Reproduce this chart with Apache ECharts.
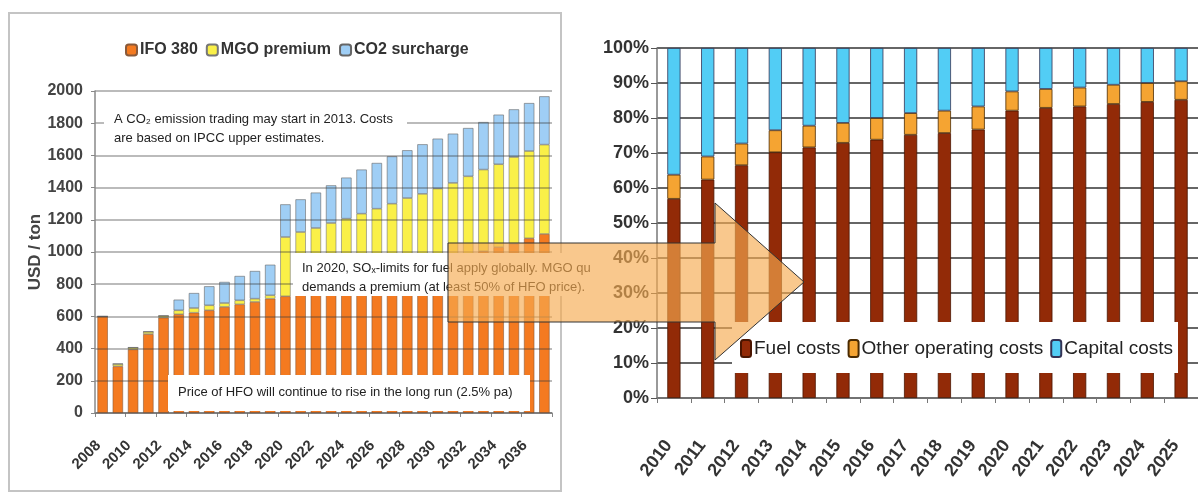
<!DOCTYPE html>
<html>
<head>
<meta charset="utf-8">
<script src="https://cdn.jsdelivr.net/npm/echarts@6/dist/echarts.min.js"></script>
<style>
html,body{margin:0;padding:0;background:#fff;}
#c{width:1198px;height:493px;}
</style>
</head>
<body>
<div id="c"></div>
<script>
// ---------- Left chart data (USD / ton) ----------
var years1 = ['2008','2009','2010','2011','2012','2013','2014','2015','2016','2017','2018','2019','2020','2021','2022','2023','2024','2025','2026','2027','2028','2029','2030','2031','2032','2033','2034','2035','2036','2037'];
var ifo380 = [600,290,395,490,592,613,623,638,659,675,690,710,725,743,762,781,800,820,841,862,883,905,928,951,975,1005,1030,1052,1085,1112];
var mgoPremium = [0,15,12,15,12,25,29,31,24,25,20,21,368,381,387,399,407,418,428,438,452,456,466,478,495,507,515,538,542,555];
var co2Surcharge = [0,0,0,0,0,66,93,118,131,151,172,190,203,203,220,234,255,274,284,294,297,308,310,306,300,295,308,296,298,300];
var yTicks1 = [0,200,400,600,800,1000,1200,1400,1600,1800,2000];

// ---------- Right chart data (% share) ----------
var years2 = ['2010','2011','2012','2013','2014','2015','2016','2017','2018','2019','2020','2021','2022','2023','2024','2025'];
var fuelCosts = [56.9,62.4,66.5,70.2,71.6,72.9,73.8,75.2,75.7,76.7,82.1,82.9,83.3,84.0,84.6,85.2];
var otherCosts = [6.9,6.6,6.2,6.3,6.2,5.7,6.2,6.2,6.4,6.6,5.5,5.4,5.4,5.5,5.4,5.3];
var capitalCosts = [36.2,31.0,27.3,23.5,22.2,21.4,20.0,18.6,17.9,16.7,12.4,11.7,11.3,10.5,10.0,9.5];

var SANS = "'Liberation Sans',Arial,sans-serif";

var chart = echarts.init(document.getElementById('c'), null, {renderer:'canvas'});

var option = {
  animation: false,
  backgroundColor: '#ffffff',
  legend: [
    {
      left: 120, top: 37,
      itemWidth: 11, itemHeight: 11, itemGap: 8,
      textStyle: {fontFamily: SANS, fontSize: 16, fontWeight: 'bold', color: '#333', padding: [0,0,0,-2]},
      data: ['IFO 380','MGO premium','CO2 surcharge']
    },
    {
      left: 735, top: 334, z: 6, width: 460,
      itemWidth: 10, itemHeight: 17, itemGap: 7,
      textStyle: {fontFamily: SANS, fontSize: 19, color: '#222', padding: [0,0,0,-2]},
      data: ['Fuel costs','Other operating costs','Capital costs']
    }
  ],
  grid: [
    {left: 95, top: 91, right: 646, bottom: 80},
    {left: 657, top: 48, right: 0, bottom: 95}
  ],
  xAxis: [
    {
      type: 'category', gridIndex: 0, data: years1,
      axisLine: {lineStyle: {color: '#888', width: 1.5}},
      axisTick: {show: true, length: 4, lineStyle: {color: '#888'}},
      axisLabel: {interval: 1, rotate: 45, margin: 26, padding: [0,6,0,0], fontFamily: SANS, fontSize: 15, fontWeight: 'bold', color: '#333'}
    },
    {
      type: 'category', gridIndex: 1, data: years2,
      axisLine: {lineStyle: {color: '#777', width: 1.5}},
      axisTick: {show: true, length: 5, lineStyle: {color: '#777'}},
      axisLabel: {interval: 0, rotate: 53, margin: 37, padding: [0,9,0,0], fontFamily: SANS, fontSize: 18, fontWeight: 'bold', color: '#333'}
    }
  ],
  yAxis: [
    {
      type: 'value', gridIndex: 0, min: 0, max: 2000, interval: 200, z: 3,
      name: 'USD / ton', nameLocation: 'middle', nameGap: 50, nameRotate: 90,
      nameTextStyle: {fontFamily: SANS, fontSize: 17, fontWeight: 'bold', color: '#444'},
      axisLine: {show: true, lineStyle: {color: '#888', width: 1.5}},
      axisTick: {show: true, length: 4, lineStyle: {color: '#888'}},
      axisLabel: {margin: 12, fontFamily: SANS, fontSize: 16, fontWeight: 'bold', color: '#444',
        formatter: function (v) { return yTicks1.indexOf(v) >= 0 ? String(v) : ''; }},
      splitLine: {show: true, lineStyle: {color: 'rgba(60,60,60,0.35)', width: 2}}
    },
    {
      type: 'value', gridIndex: 1, min: 0, max: 100, interval: 10,
      axisLine: {show: true, lineStyle: {color: '#777', width: 1.5}},
      axisTick: {show: true, length: 6, lineStyle: {color: '#555'}},
      axisLabel: {margin: 8, fontFamily: SANS, fontSize: 18, fontWeight: 'bold', color: '#333', formatter: '{value}%'},
      splitLine: {show: true, lineStyle: {color: '#666', width: 2}}
    }
  ],
  series: [
    {name: 'IFO 380', type: 'bar', stack: 'a', xAxisIndex: 0, yAxisIndex: 0, barWidth: '68%', data: ifo380,
      itemStyle: {color: '#F47A20', borderColor: '#8a5a3a', borderWidth: 0.6}},
    {name: 'MGO premium', type: 'bar', stack: 'a', xAxisIndex: 0, yAxisIndex: 0, barWidth: '68%', data: mgoPremium,
      itemStyle: {color: '#FAF048', borderColor: '#777', borderWidth: 0.6}},
    {name: 'CO2 surcharge', type: 'bar', stack: 'a', xAxisIndex: 0, yAxisIndex: 0, barWidth: '68%', data: co2Surcharge,
      itemStyle: {color: '#9FCEF5', borderColor: '#666', borderWidth: 0.6}},
    {name: 'Fuel costs', type: 'bar', stack: 'b', xAxisIndex: 1, yAxisIndex: 1, barWidth: '39%', data: fuelCosts,
      itemStyle: {color: '#922A07', borderColor: '#4a1500', borderWidth: 0.8}},
    {name: 'Other operating costs', type: 'bar', stack: 'b', xAxisIndex: 1, yAxisIndex: 1, barWidth: '39%', data: otherCosts,
      itemStyle: {color: '#F5A432', borderColor: '#4a2a00', borderWidth: 0.8}},
    {name: 'Capital costs', type: 'bar', stack: 'b', xAxisIndex: 1, yAxisIndex: 1, barWidth: '39%', data: capitalCosts,
      itemStyle: {color: '#52CDF5', borderColor: '#335', borderWidth: 0.8}}
  ],
  graphic: [
    // frame of the left chart
    {type: 'rect', z: -1, shape: {x: 9, y: 13, width: 552, height: 478},
      style: {fill: 'none', stroke: '#c4c4c4', lineWidth: 2}},
    // annotation: CO2 trading
    {type: 'rect', z: 5, shape: {x: 104, y: 101, width: 303, height: 46}, style: {fill: '#fff'}},
    {type: 'text', z: 6, left: 114, top: 110,
      style: {text: 'A CO\u2082 emission trading may start in 2013. Costs\nare based on IPCC upper estimates.',
        font: "13px " + SANS, fill: '#222', lineHeight: 19}},
    // annotation: SOx limits
    {type: 'rect', z: 5, shape: {x: 293, y: 253, width: 308, height: 43}, style: {fill: '#fff'}},
    {type: 'text', z: 6, left: 302, top: 259,
      style: {text: 'In 2020, SO\u2093-limits for fuel apply globally. MGO qu\ndemands a premium (at least 50% of HFO price).',
        font: "13px " + SANS, fill: '#222', lineHeight: 19}},
    // annotation: HFO price
    {type: 'rect', z: 5, shape: {x: 168, y: 375, width: 362, height: 36}, style: {fill: '#fff'}},
    {type: 'text', z: 6, left: 178, top: 386,
      style: {text: 'Price of HFO will continue to rise in the long run (2.5% pa)',
        font: "13px " + SANS, fill: '#222'}},
    // white box behind right legend
    {type: 'rect', z: 3, shape: {x: 732, y: 322, width: 446, height: 51}, style: {fill: '#fff'}},
    // big arrow
    {type: 'polygon', z: 10,
      shape: {points: [[448,243],[715,243],[715,203],[804,282],[715,360],[715,322],[448,322]]},
      style: {fill: 'rgba(246,170,80,0.65)', stroke: '#333', lineWidth: 1}}
  ]
};
chart.setOption(option);
</script>
</body>
</html>
